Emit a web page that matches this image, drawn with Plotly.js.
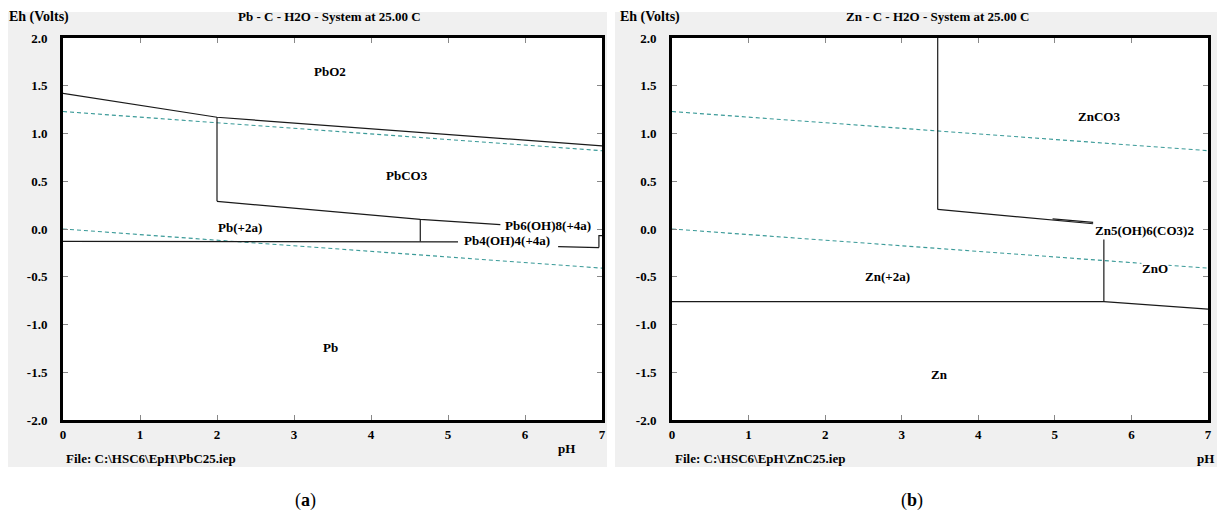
<!DOCTYPE html>
<html><head><meta charset="utf-8">
<script src="https://cdn.plot.ly/plotly-3.0.1.min.js"></script>
<style>html,body{margin:0;padding:0;background:#fff}</style>
</head><body><div id="chart" style="width:1217px;height:517px"></div>
<script>
const W = 1217, H = 517;

// ---- tick labels ----
const pHTicks = [0, 1, 2, 3, 4, 5, 6, 7];
const pHTickText = ['0', '1', '2', '3', '4', '5', '6', '7'];
const ehTicks = [2, 1.5, 1, 0.5, 0, -0.5, -1, -1.5, -2];
const ehTickText = ['2.0', '1.5', '1.0', '0.5', '0.0', '-0.5', '-1.0', '-1.5', '-2.0'];

// ---- water stability lines ----
const waterPH = [0, 7];
const waterO2Eh = [1.23, 0.82];
const waterH2Eh = [0.0, -0.41];

// ---- Pb - C - H2O boundaries ----
const pbO2PH = [0, 2.0, 7];            const pbO2Eh = [1.42, 1.17, 0.87];
const pbV1PH = [2.0, 2.0];             const pbV1Eh = [1.17, 0.29];
const pbCO3LowPH = [2.0, 4.64, 5.68];  const pbCO3LowEh = [0.29, 0.10, 0.045];
const pbV2PH = [4.64, 4.64];           const pbV2Eh = [0.10, -0.13];
const pb2PH = [0, 4.64, 5.13];         const pb2Eh = [-0.13, -0.13, -0.135];
const pb4PH = [6.43, 6.96];            const pb4Eh = [-0.185, -0.195];
const pbV3PH = [6.96, 6.96, 7.0];      const pbV3Eh = [-0.195, -0.07, -0.07];

// ---- Zn - C - H2O boundaries ----
const znV1PH = [3.47, 3.47];           const znV1Eh = [2.0, 0.205];
const znCO3PH = [3.47, 4.97, 5.50];    const znCO3Eh = [0.205, 0.097, 0.055];
const znCO3bPH = [4.97, 5.50];         const znCO3bEh = [0.107, 0.07];
const znV2PH = [5.64, 5.64];           const znV2Eh = [-0.11, -0.76];
const zn2PH = [0, 5.64, 7];            const zn2Eh = [-0.76, -0.76, -0.84];

// ---- region labels ----
const pbLabels = ['PbO2', 'PbCO3', 'Pb(+2a)', 'Pb', 'Pb6(OH)8(+4a)', 'Pb4(OH)4(+4a)'];
const pbLabelPH = [3.47, 4.47, 2.30, 3.47, 6.30, 5.77];
const pbLabelEh = [1.65, 0.56, 0.015, -1.24, 0.037, -0.12];
const znLabels = ['ZnCO3', 'Zn(+2a)', 'ZnO', 'Zn', 'Zn5(OH)6(CO3)2'];
const znLabelPH = [5.58, 2.81, 6.31, 3.49, 5.51];
const znLabelEh = [1.18, -0.50, -0.415, -1.52, -0.016];
const znLabelAnchor = ['center', 'center', 'center', 'center', 'left'];

const FONT = '"Liberation Serif"';
const solid = {color: '#1a1a1a', width: 1.2};
const dashed = {color: '#3a9a98', width: 1.1, dash: '4px,3px'};

function tr(x, y, line, xa, ya) {
  return {x: x, y: y, mode: 'lines', line: line, xaxis: xa, yaxis: ya,
          hoverinfo: 'skip', showlegend: false, type: 'scatter'};
}

const data = [
  tr(waterPH, waterO2Eh, dashed, 'x', 'y'),
  tr(waterPH, waterH2Eh, dashed, 'x', 'y'),
  tr(pbO2PH, pbO2Eh, solid, 'x', 'y'),
  tr(pbV1PH, pbV1Eh, solid, 'x', 'y'),
  tr(pbCO3LowPH, pbCO3LowEh, solid, 'x', 'y'),
  tr(pbV2PH, pbV2Eh, solid, 'x', 'y'),
  tr(pb2PH, pb2Eh, solid, 'x', 'y'),
  tr(pb4PH, pb4Eh, solid, 'x', 'y'),
  tr(pbV3PH, pbV3Eh, solid, 'x', 'y'),
  tr(waterPH, waterO2Eh, dashed, 'x2', 'y2'),
  tr(waterPH, waterH2Eh, dashed, 'x2', 'y2'),
  tr(znV1PH, znV1Eh, solid, 'x2', 'y2'),
  tr(znCO3PH, znCO3Eh, solid, 'x2', 'y2'),
  tr(znCO3bPH, znCO3bEh, solid, 'x2', 'y2'),
  tr(znV2PH, znV2Eh, solid, 'x2', 'y2'),
  tr(zn2PH, zn2Eh, solid, 'x2', 'y2')
];

const tickFont = {family: FONT, size: 13, color: '#000', weight: 700};
function xAx(dom, anchor) {
  return {domain: dom, anchor: anchor, range: [0, 7], showline: true, linewidth: 3,
    linecolor: '#000', mirror: 'ticks', ticks: 'inside', ticklen: 5, tickwidth: 1,
    tickcolor: '#888', tickvals: pHTicks, ticktext: pHTickText, showgrid: false,
    zeroline: false, tickfont: tickFont, fixedrange: true};
}
function yAx(anchor) {
  return {domain: [1 - 420 / H, 1 - 38 / H], anchor: anchor, range: [-2, 2], showline: true,
    linewidth: 3, linecolor: '#000', mirror: 'ticks', ticks: 'inside', ticklen: 5,
    tickwidth: 1, tickcolor: '#888', tickvals: ehTicks, ticktext: ehTickText,
    showgrid: false, zeroline: false, tickfont: tickFont, ticklabelstandoff: 10, fixedrange: true};
}

const txtFont = {family: FONT, size: 13, color: '#000', weight: 700};
const ehFont = {family: FONT, size: 14, color: '#000', weight: 700};
function pa(text, px, py, anchor, extra) {
  return Object.assign({text: text, xref: 'paper', yref: 'paper', x: px / W, y: 1 - py / H,
    xanchor: anchor || 'center', yanchor: 'middle', showarrow: false, font: txtFont}, extra || {});
}

const annotations = [
  pa('Eh (Volts)', 39, 17, 'center', {font: ehFont}),
  pa('Pb - C - H2O - System at 25.00 C', 329, 17),
  pa('File: C:\\HSC6\\EpH\\PbC25.iep', 64, 458, 'left'),
  pa('pH', 566, 448),
  pa('Eh (Volts)', 650, 17, 'center', {font: ehFont}),
  pa('Zn - C - H2O - System at 25.00 C', 937, 17),
  pa('File: C:\\HSC6\\EpH\\ZnC25.iep', 673, 458, 'left'),
  pa('pH', 1216, 458, 'right'),
  pa('(<b>a</b>)', 305, 500, 'center', {font: {family: FONT, size: 18, color: '#000'}}),
  pa('(<b>b</b>)', 912, 500, 'center', {font: {family: FONT, size: 18, color: '#000'}})
];
pbLabels.forEach((t, i) => annotations.push({text: t, x: pbLabelPH[i], y: pbLabelEh[i],
  xref: 'x', yref: 'y', showarrow: false, font: txtFont, xanchor: 'center', yanchor: 'middle',
  borderpad: 0}));
znLabels.forEach((t, i) => annotations.push({text: t, x: znLabelPH[i], y: znLabelEh[i],
  xref: 'x2', yref: 'y2', showarrow: false, font: txtFont, xanchor: znLabelAnchor[i],
  yanchor: 'middle', borderpad: 0, bgcolor: t === 'ZnO' ? '#fff' : 'rgba(0,0,0,0)'}));

function rect(x0, y0, x1, y1, fill) {
  return {type: 'rect', xref: 'paper', yref: 'paper', x0: x0 / W, x1: x1 / W,
    y0: 1 - y1 / H, y1: 1 - y0 / H, fillcolor: fill, line: {width: 0}, layer: 'below'};
}
const shapes = [
  rect(8, 12, 607, 467, '#f0f0f0'),
  rect(615, 12, 1217, 467, '#f0f0f0'),
  rect(63, 38, 602, 420, '#ffffff'),
  rect(672, 38, 1208, 420, '#ffffff')
];

const layout = {
  width: W, height: H, margin: {l: 0, r: 0, t: 0, b: 0},
  paper_bgcolor: '#fff', plot_bgcolor: 'rgba(0,0,0,0)',
  showlegend: false,
  font: {family: FONT},
  xaxis: xAx([63 / W, 602 / W], 'y'),
  yaxis: yAx('x'),
  xaxis2: xAx([672 / W, 1208 / W], 'y2'),
  yaxis2: yAx('x2'),
  annotations: annotations,
  shapes: shapes
};

Plotly.newPlot('chart', data, layout, {displayModeBar: false, staticPlot: true});
</script></body></html>
